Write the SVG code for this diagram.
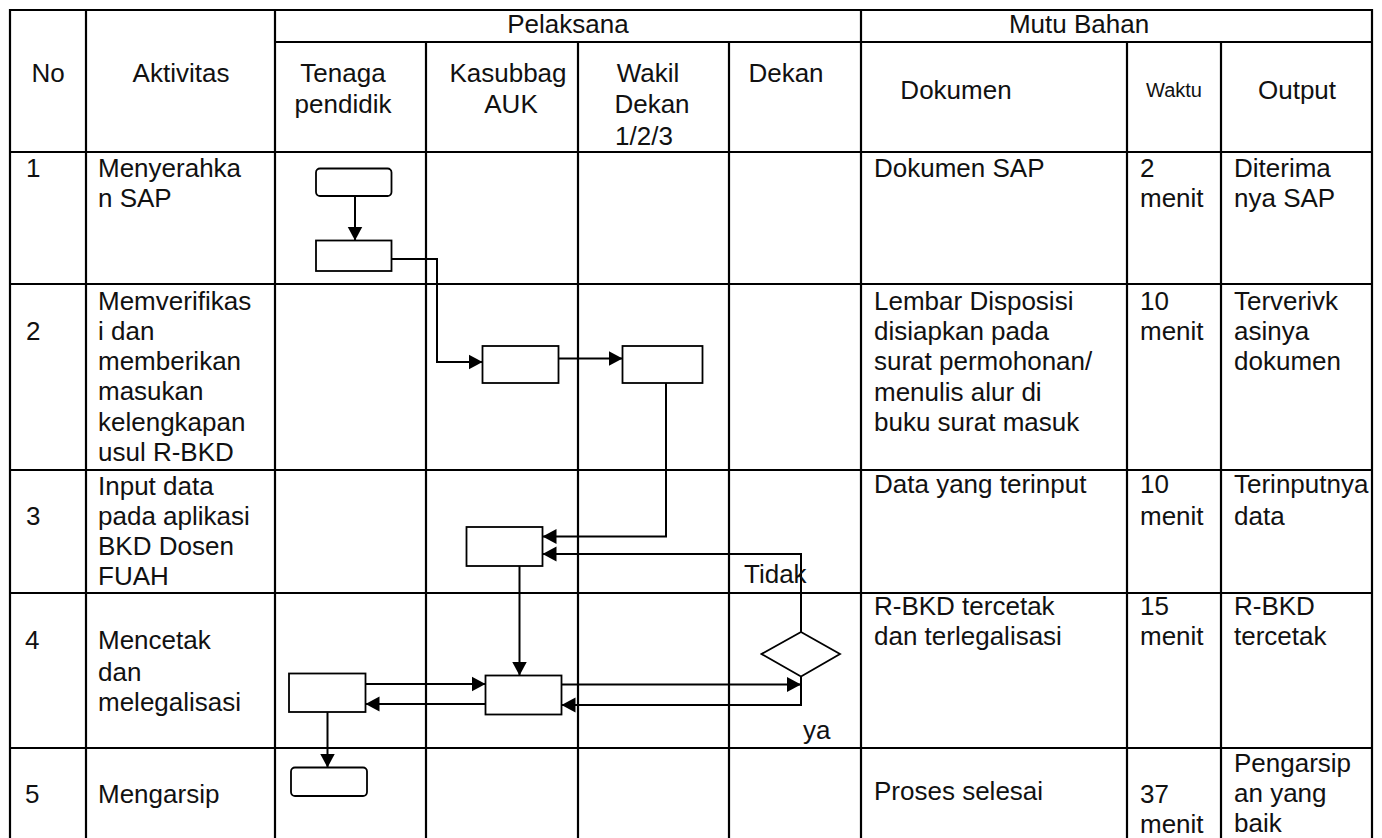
<svg xmlns="http://www.w3.org/2000/svg" width="1382" height="838" viewBox="0 0 1382 838">
<style>
.grid line{stroke:#000;stroke-width:2.2}
text{font-family:"Liberation Sans",Arial,sans-serif;font-size:26px;fill:#111}
.c{text-anchor:middle}
.sm{font-size:20px}
.node{fill:#fff;stroke:#000;stroke-width:1.8}
.conn{fill:none;stroke:#000;stroke-width:2}
</style>
<defs>
<marker id="ah" markerUnits="userSpaceOnUse" markerWidth="15" markerHeight="16" refX="14" refY="8" orient="auto">
<path d="M0,0.5 L14,8 L0,15.5 z" fill="#000"/>
</marker>
</defs>
<rect x="0" y="0" width="1382" height="838" fill="#fff"/>
<g id="table" class="grid">
<line x1="9" y1="10" x2="1373" y2="10"/>
<line x1="275" y1="42" x2="1373" y2="42"/>
<line x1="9" y1="152" x2="1373" y2="152"/>
<line x1="9" y1="284" x2="1373" y2="284"/>
<line x1="9" y1="470" x2="1373" y2="470"/>
<line x1="9" y1="593" x2="1373" y2="593"/>
<line x1="9" y1="748" x2="1373" y2="748"/>
<line x1="10" y1="9" x2="10" y2="840"/>
<line x1="86" y1="9" x2="86" y2="840"/>
<line x1="275" y1="9" x2="275" y2="840"/>
<line x1="426" y1="42" x2="426" y2="840"/>
<line x1="578" y1="42" x2="578" y2="840"/>
<line x1="729" y1="42" x2="729" y2="840"/>
<line x1="861" y1="9" x2="861" y2="840"/>
<line x1="1127" y1="42" x2="1127" y2="840"/>
<line x1="1221" y1="42" x2="1221" y2="840"/>
<line x1="1372" y1="9" x2="1372" y2="840"/>
</g>
<g id="header">
<text class="c" x="568" y="33">Pelaksana</text>
<text class="c" x="1079" y="33">Mutu Bahan</text>
<text class="c" x="48" y="82">No</text>
<text class="c" x="181" y="82">Aktivitas</text>
<text class="c" x="343" y="82">Tenaga</text>
<text class="c" x="343" y="113">pendidik</text>
<text class="c" x="508" y="82">Kasubbag</text>
<text class="c" x="511" y="113">AUK</text>
<text class="c" x="648" y="82">Wakil</text>
<text class="c" x="652" y="113">Dekan</text>
<text class="c" x="644" y="145">1/2/3</text>
<text class="c" x="786" y="82">Dekan</text>
<text class="c" x="956" y="99">Dokumen</text>
<text class="c sm" x="1174" y="97">Waktu</text>
<text class="c" x="1297" y="99">Output</text>
</g>
<g id="row1">
<text x="26" y="177">1</text>
<text x="98" y="177">Menyerahka</text>
<text x="98" y="207">n SAP</text>
<text x="874" y="177">Dokumen SAP</text>
<text x="1140" y="177">2</text>
<text x="1140" y="207">menit</text>
<text x="1234" y="177">Diterima</text>
<text x="1234" y="207">nya SAP</text>
</g>
<g id="row2">
<text x="26" y="340">2</text>
<text x="98" y="310">Memverifikas</text>
<text x="98" y="340">i dan</text>
<text x="98" y="370">memberikan</text>
<text x="98" y="400">masukan</text>
<text x="98" y="431">kelengkapan</text>
<text x="98" y="461">usul R-BKD</text>
<text x="874" y="310">Lembar Disposisi</text>
<text x="874" y="340">disiapkan pada</text>
<text x="874" y="370">surat permohonan/</text>
<text x="874" y="401">menulis alur di</text>
<text x="874" y="431">buku surat masuk</text>
<text x="1140" y="310">10</text>
<text x="1140" y="340">menit</text>
<text x="1234" y="310">Terverivk</text>
<text x="1234" y="340">asinya</text>
<text x="1234" y="370">dokumen</text>
</g>
<g id="row3">
<text x="26" y="525">3</text>
<text x="98" y="495">Input data</text>
<text x="98" y="525">pada aplikasi</text>
<text x="98" y="555">BKD Dosen</text>
<text x="98" y="585">FUAH</text>
<text x="874" y="493">Data yang terinput</text>
<text x="1140" y="493">10</text>
<text x="1140" y="525">menit</text>
<text x="1234" y="493">Terinputnya</text>
<text x="1234" y="525">data</text>
</g>
<g id="row4">
<text x="25" y="649">4</text>
<text x="98" y="649">Mencetak</text>
<text x="98" y="681">dan</text>
<text x="98" y="711">melegalisasi</text>
<text x="874" y="615">R-BKD tercetak</text>
<text x="874" y="645">dan terlegalisasi</text>
<text x="1140" y="615">15</text>
<text x="1140" y="645">menit</text>
<text x="1234" y="615">R-BKD</text>
<text x="1234" y="645">tercetak</text>
</g>
<g id="row5">
<text x="25" y="803">5</text>
<text x="98" y="803">Mengarsip</text>
<text x="874" y="800">Proses selesai</text>
<text x="1140" y="803">37</text>
<text x="1140" y="833">menit</text>
<text x="1234" y="772">Pengarsip</text>
<text x="1234" y="802">an yang</text>
<text x="1234" y="832">baik</text>
</g>
<g id="connectors" class="conn">
<line x1="355" y1="196" x2="355" y2="240.5" marker-end="url(#ah)"/>
<polyline points="392,259 437,259 437,362 482.5,362" marker-end="url(#ah)"/>
<line x1="558.5" y1="358.5" x2="622.5" y2="358.5" marker-end="url(#ah)"/>
<polyline points="666,383 666,536.5 542.5,536.5" marker-end="url(#ah)"/>
<polyline points="801,632 801,554 542.5,554" marker-end="url(#ah)"/>
<line x1="519.5" y1="563" x2="519.5" y2="675.5" marker-end="url(#ah)"/>
<line x1="365.5" y1="684" x2="485.5" y2="684" marker-end="url(#ah)"/>
<line x1="489" y1="704" x2="365.5" y2="704" marker-end="url(#ah)"/>
<line x1="561.5" y1="684.5" x2="801" y2="684.5" marker-end="url(#ah)"/>
<polyline points="801,676.5 801,705 561.5,705" marker-end="url(#ah)"/>
<line x1="327.5" y1="712" x2="327.5" y2="767.5" marker-end="url(#ah)"/>
</g>
<g id="n1"><rect class="node" x="316" y="168.5" width="75.5" height="27.5" rx="4"/></g>
<g id="n2"><rect class="node" x="316" y="240.5" width="75.5" height="30.5"/></g>
<g id="n3"><rect class="node" x="482.5" y="346" width="76" height="37"/></g>
<g id="n4"><rect class="node" x="622.5" y="346" width="80" height="37"/></g>
<g id="n5"><rect class="node" x="466.5" y="527" width="76" height="39"/></g>
<g id="n6"><rect class="node" x="289" y="673.5" width="76.5" height="38.5"/></g>
<g id="n7"><rect class="node" x="485.5" y="675.5" width="76" height="39"/></g>
<g id="n8"><polygon class="node" points="801,632 840,654 801,676.5 761.5,654"/></g>
<g id="n9"><rect class="node" x="291" y="767.5" width="76" height="28.5" rx="4"/></g>
<g id="labels">
<text x="744" y="583">Tidak</text>
<text x="803" y="739">ya</text>
</g>
</svg>
